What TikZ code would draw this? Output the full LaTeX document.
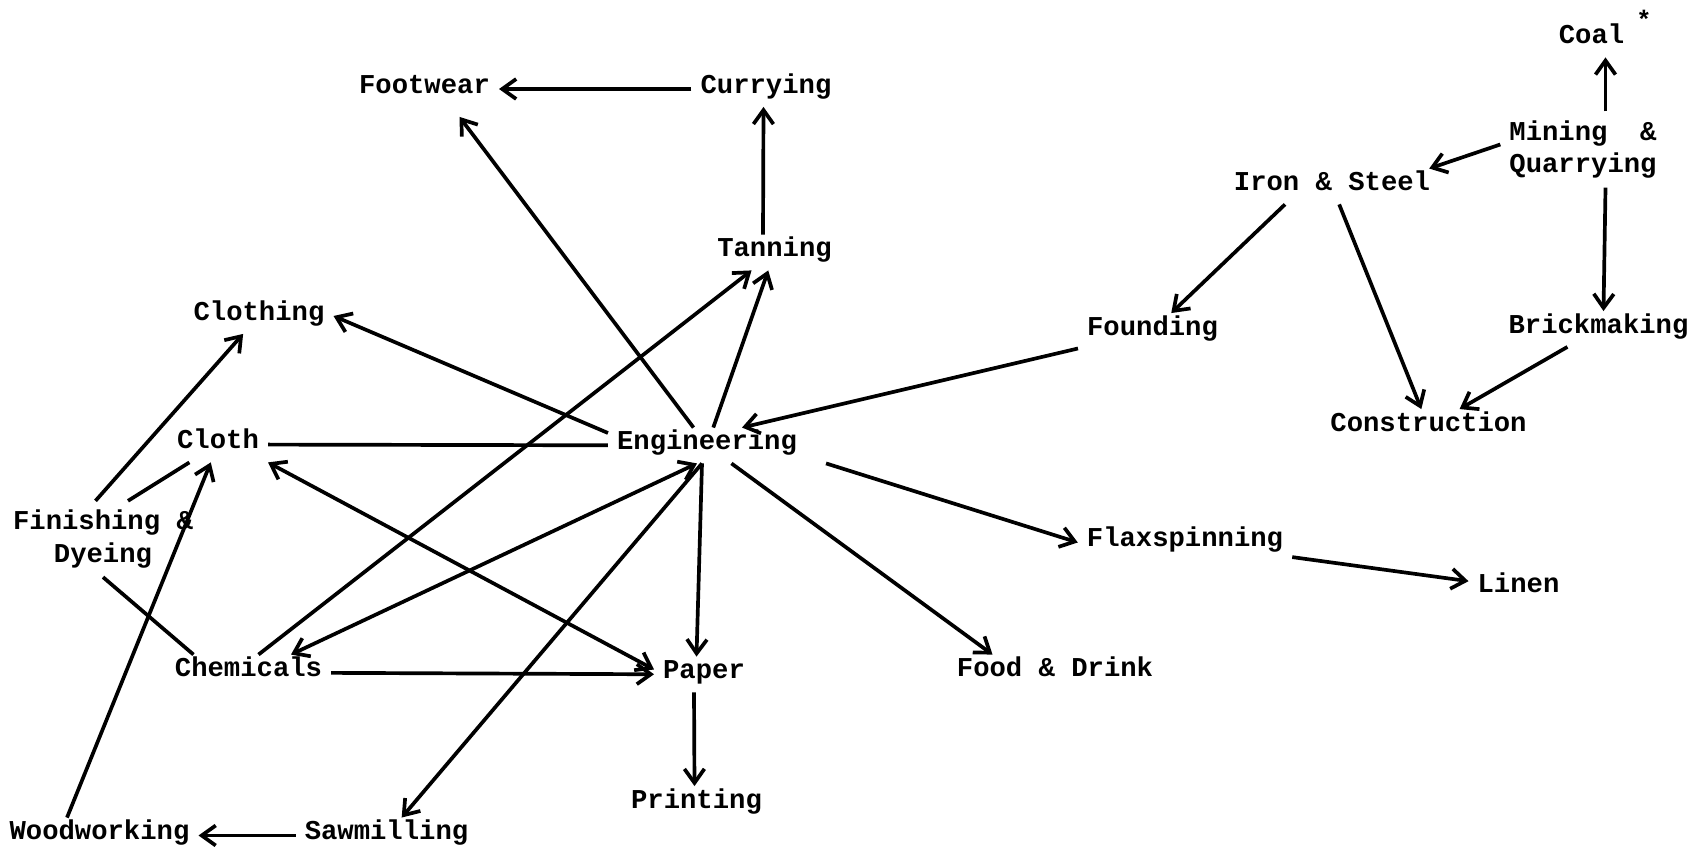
\documentclass[tikz,border=0pt]{standalone}
\usepackage{fontspec}
\setmonofont{Liberation Mono}
\usetikzlibrary{arrows.meta}

\begin{document}
\begin{tikzpicture}[ind/.style={inner sep=5pt, yshift=-0.1cm, font=\ttfamily\bfseries\fontsize{15.5}{18.5}\selectfont, text height=0.75em, text depth=0.25em},
	ind2/.style={ind, align=center, text height=, text depth=},
	link/.style={line width=2.1pt},
	flow/.style={link, -{Straight Barb[length=2.8mm, width=4mm]}},
	flows/.style={link, {Straight Barb[length=2.8mm, width=4mm]}-{Straight Barb[length=2.8mm, width=4mm]}}]
	\useasboundingbox (0, 0) rectangle (33.86, 17.04);
	% leather and textiles
	\node[ind] (foot) at (8.49, 15.36) {Footwear};
	\node[ind] (curr) at (15.32, 15.36) {Currying};
	\node[ind] (tan) at (15.49, 12.09) {Tanning};
	\node[ind] (clothing) at (5.18, 10.82) {Clothing};
	\node[ind] (cloth) at (4.36, 8.25) {Cloth};
	\node[ind2] (fin) at (2.06, 6.36) {Finishing \&\\Dyeing};
	\node[ind] (chem) at (4.97, 3.69) {Chemicals};
	\node[ind] (wood) at (1.99, 0.43) {Woodworking};
	\node[ind] (saw) at (7.73, 0.43) {Sawmilling};
	% centre
	\node[ind] (eng) at (14.14, 8.23) {Engineering};
	\node[ind] (paper) at (14.08, 3.65) {Paper};
	\node[ind] (print) at (13.93, 1.06) {Printing};
	\node[ind] (food) at (21.10, 3.69) {Food \& Drink};
	\node[ind] (flax) at (23.70, 6.29) {Flaxspinning};
	\node[ind] (linen) at (30.37, 5.38) {Linen};
	% metals and mining
	\node[ind] (found) at (23.05, 10.52) {Founding};
	\node[ind] (iron) at (26.64, 13.41) {Iron \& Steel};
	\node[ind2] (mine) at (31.66, 14.15) {Mining~~\&\\Quarrying};
	\node[ind] (coal) at (31.83, 16.35) {Coal\rlap{\hspace{0.45em}\raisebox{1.1ex}{\Large*}}};
	\node[ind] (brick) at (31.97, 10.56) {Brickmaking};
	\node[ind] (constr) at (28.57, 8.60) {Construction};

	\draw[flow] (curr) -- (foot);
	\draw[flow] ([xshift=-0.23cm]tan.north) -- ([xshift=-0.05cm]curr.south);
	\draw[flow] (eng) -- ([xshift=0.7cm, yshift=-0.2cm]foot.south);
	\draw[flow] (eng) -- (tan);
	\draw[flow] ([xshift=0.2cm]chem.north) -- (tan);
	\draw[flow] ([yshift=0.25cm]eng.west) -- (clothing.east);
	\draw[link] (cloth) -- (eng);
	\draw[flow] ([xshift=-0.15cm]fin.north) -- (clothing);
	\draw[link] ([xshift=0.5cm]fin.north) -- (cloth);
	\draw[flow] ([xshift=-0.65cm]wood.north) -- (cloth);
	\draw[link] (fin.south) -- ([xshift=-1.1cm]chem.north);
	\draw[flows] (cloth.south east) -- ([yshift=0.1cm]paper.west);
	\draw[flows] ([xshift=0.85cm]chem.north) -- ([xshift=-0.2cm]eng.south);
	\draw[flow] (chem) -- (paper);
	\draw[flow] ([xshift=-0.1cm]eng.south) -- (saw);
	\draw[flow] ([xshift=-0.1cm]eng.south) -- ([xshift=-0.15cm]paper.north);
	\draw[flow] ([xshift=-0.2cm]paper.south) -- ([xshift=-0.04cm]print.north);
	\draw[flow] (saw) -- (wood);
	\draw[flow] (eng) -- ([xshift=-1.25cm]food.north);
	\draw[flow] ([xshift=0.4cm]eng.south east) -- (flax.west);
	\draw[flow] (flax) -- (linen);
	\draw[flow] (found) -- ([xshift=0.7cm]eng.north);
	\draw[flow] ([xshift=-0.94cm]iron.south) -- (found);
	\draw[flow] (iron) -- (constr);
	\draw[flow] ([yshift=0.1cm]mine.west) -- ([xshift=-0.2cm]iron.north east);
	\draw[flow] ([xshift=0.45cm]mine.north) -- ([xshift=0.28cm]coal.south);
	\draw[flow] ([xshift=0.45cm]mine.south) -- ([xshift=0.1cm]brick.north);
	\draw[flow] (brick) -- (constr);
\end{tikzpicture}
\end{document}
